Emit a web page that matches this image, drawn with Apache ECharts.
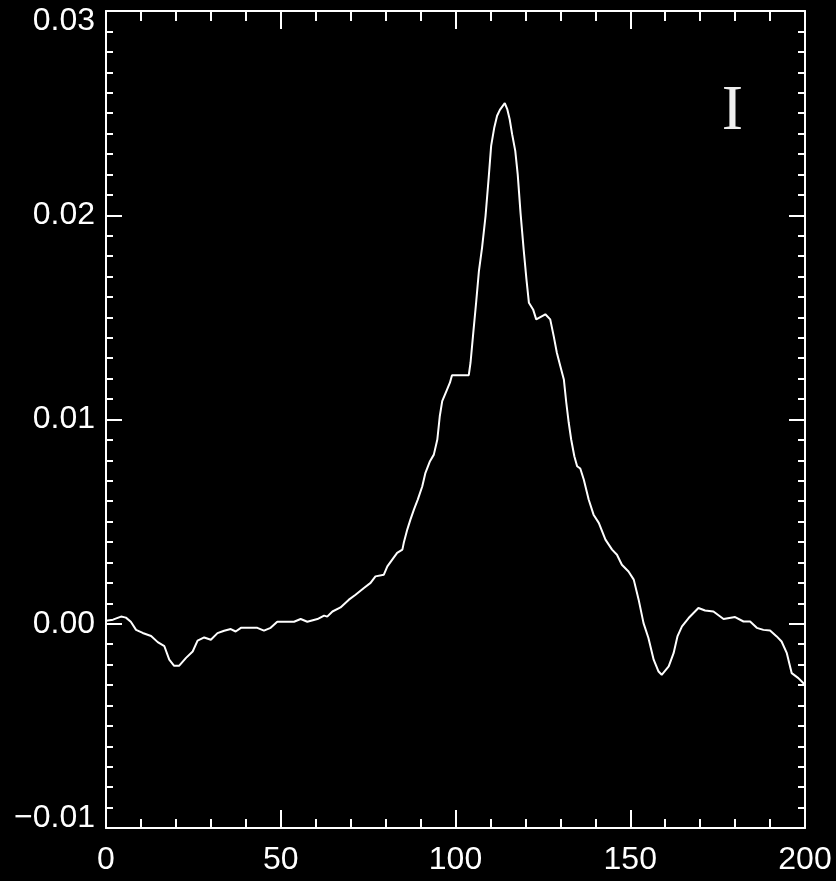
<!DOCTYPE html>
<html>
<head>
<meta charset="utf-8">
<script src="https://cdn.jsdelivr.net/npm/echarts@6/dist/echarts.min.js"></script>
<style>
html,body{margin:0;padding:0;background:#000;}
#c{width:836px;height:881px;}
</style>
</head>
<body>
<div id="c"></div>
<script>
// Data
const xs = [0, 2, 4.3, 5.7, 7.1, 8.6, 10.5, 12.9, 14.8, 16.7, 18.1, 19.5, 20.9, 22.9, 24.8, 26.2, 28.1, 30, 31.9, 33.8, 35.7, 37.1, 38.6, 43.3, 45.2, 47.1, 49, 53.8, 55.7, 57.6, 60.5, 62.4, 63.3, 64.8, 67.1, 69.5, 71.4, 73.8, 75.7, 77.1, 79.5, 80.5, 81.9, 83.3, 84.8, 85.2, 86.2, 87.1, 88.1, 89.2, 90.5, 91.4, 92.7, 93.8, 94.8, 95.5, 96.2, 97.4, 98.4, 99, 103.8, 104.3, 105, 105.9, 106.7, 107.6, 108.6, 109.5, 110.2, 111.1, 111.9, 112.7, 114.1, 114.8, 115.5, 116.2, 117.1, 117.8, 118.6, 119.5, 120.3, 121, 122.2, 123.1, 125.7, 127.1, 128.1, 129, 130, 131, 131.7, 132.4, 133.1, 134, 134.8, 135.7, 136.7, 138.1, 139.5, 141, 142.9, 144.8, 146.2, 147.6, 149.5, 151, 152.4, 153.8, 155.2, 156.7, 158.1, 159, 161, 162.4, 163.5, 164.8, 166.7, 169.5, 171.4, 173.8, 176.7, 180, 182.4, 184.3, 186.2, 188.1, 190, 191.9, 193.3, 194.8, 196.2, 198.1, 200];
const ys = [0.00015, 0.0002, 0.00035, 0.0003, 0.0001, -0.0003, -0.00045, -0.0006, -0.0009, -0.0011, -0.00176, -0.00206, -0.00206, -0.00167, -0.00136, -0.00083, -0.00067, -0.00078, -0.00046, -0.00034, -0.00026, -0.00038, -0.0002, -0.0002, -0.00034, -0.0002, 0.0001, 0.0001, 0.00023, 0.0001, 0.00023, 0.0004, 0.00035, 0.0006, 0.0008, 0.00118, 0.00142, 0.00175, 0.002, 0.00232, 0.0024, 0.00281, 0.00314, 0.00347, 0.00363, 0.00396, 0.00461, 0.0051, 0.00559, 0.00608, 0.00673, 0.00739, 0.00796, 0.00828, 0.00902, 0.01016, 0.0109, 0.01139, 0.0118, 0.01217, 0.01217, 0.01278, 0.01408, 0.01572, 0.01727, 0.01842, 0.01997, 0.02185, 0.0234, 0.0243, 0.02487, 0.02516, 0.02549, 0.0252, 0.0247, 0.02397, 0.02315, 0.022, 0.02013, 0.01833, 0.01686, 0.01572, 0.01539, 0.0149, 0.01515, 0.0149, 0.01408, 0.01327, 0.01261, 0.01196, 0.01082, 0.00984, 0.00902, 0.0082, 0.00771, 0.0076, 0.00706, 0.00608, 0.00534, 0.00494, 0.00412, 0.00363, 0.00338, 0.00289, 0.00256, 0.00216, 0.00118, 0.00003, -0.0007, -0.00176, -0.00234, -0.0025, -0.00209, -0.00144, -0.00062, -0.00013, 0.00028, 0.00077, 0.00065, 0.0006, 0.00023, 0.00033, 0.00011, 0.00011, -0.0002, -0.0003, -0.00033, -0.00062, -0.00087, -0.00144, -0.00242, -0.00266, -0.00299];
const xTicks = [0, 50, 100, 150, 200];
const yTicks = [-0.01, 0.00, 0.01, 0.02, 0.03];
const panelLabel = 'I';

const FONT = '"Liberation Sans Narrow", "Liberation Sans", sans-serif';
const WHITE = '#ffffff';

const chart = echarts.init(document.getElementById('c'), null, {renderer: 'canvas'});

function fmtY(v) {
  const s = Math.abs(v).toFixed(2);
  return v < -1e-9 ? '\u2212' + s : s;
}
const yMin = yTicks[0], yMax = yTicks[yTicks.length - 1];

function axisCommon(showLabel, majorLen, minorLen, minorSplit) {
  return {
    axisLine: {show: true, onZero: false, lineStyle: {color: WHITE, width: 2}},
    axisTick: {show: true, inside: true, length: majorLen, lineStyle: {color: WHITE, width: 2}},
    minorTick: {show: true, splitNumber: minorSplit, length: minorLen, lineStyle: {color: WHITE, width: 2}},
    splitLine: {show: false},
    minorSplitLine: {show: false}
  };
}

const xBase = {type: 'value', min: xTicks[0], max: xTicks[xTicks.length - 1], interval: xTicks[1] - xTicks[0]};
const yBase = {type: 'value', min: yMin, max: yMax, interval: yTicks[1] - yTicks[0]};

chart.setOption({
  backgroundColor: '#000000',
  animation: false,
  grid: {left: 106, right: 31, top: 11, bottom: 53, containLabel: false, outerBoundsMode: 'none'},
  xAxis: [
    Object.assign({}, xBase, axisCommon(true, 18, 9, 5), {
      position: 'bottom',
      axisLabel: {show: true, color: WHITE, fontFamily: FONT, fontSize: 32, margin: 16,
        formatter: v => String(Math.round(v))}
    }),
    Object.assign({}, xBase, axisCommon(false, 18, 10, 5), {
      position: 'top',
      axisLabel: {show: false}
    })
  ],
  yAxis: [
    Object.assign({}, yBase, axisCommon(true, 16, 7, 10), {
      position: 'left',
      axisLabel: {show: true, color: WHITE, fontFamily: FONT, fontSize: 32, margin: 11,
        formatter: function (v) {
          const t = fmtY(v);
          if (Math.abs(v - yMax) < 1e-9) return '{top|' + t + '}';
          if (Math.abs(v - yMin) < 1e-9) return '{bot|' + t + '}';
          return t;
        },
        rich: {
          top: {color: WHITE, fontFamily: FONT, fontSize: 32, padding: [20, 0, 0, 0]},
          bot: {color: WHITE, fontFamily: FONT, fontSize: 32, padding: [0, 0, 20, 0]}
        }
      }
    }),
    Object.assign({}, yBase, axisCommon(false, 16, 7, 10), {
      position: 'right',
      axisLabel: {show: false}
    })
  ],
  graphic: [{
    type: 'text',
    right: 836 - 743,
    top: 80,
    style: {text: panelLabel, fill: '#eeeeee', font: '64px "Liberation Serif", serif'}
  }],
  series: [{
    type: 'line',
    xAxisIndex: 0,
    yAxisIndex: 0,
    data: xs.map((x, i) => [x, ys[i]]),
    showSymbol: false,
    symbol: 'none',
    smooth: false,
    lineStyle: {color: WHITE, width: 2},
    clip: true
  }]
});
</script>
</body>
</html>
